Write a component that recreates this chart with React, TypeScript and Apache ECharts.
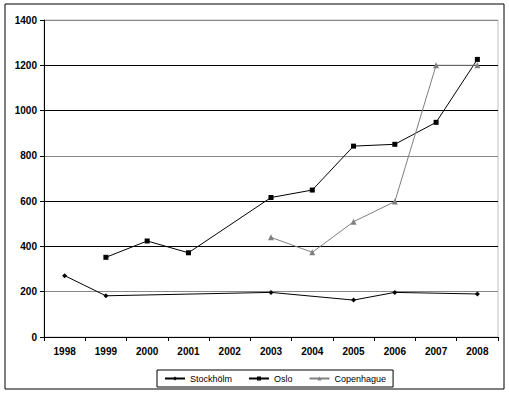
import React, { useEffect, useRef } from "react";
import * as echarts from "echarts";

const years = ["1998", "1999", "2000", "2001", "2002", "2003", "2004", "2005", "2006", "2007", "2008"];
const stockholm = [271, 182, null, null, null, 197, null, 163, 197, null, 190];
const oslo = [null, 352, 424, 372, null, 616, 649, 843, 851, 948, 1226];
const copenhague = [null, null, null, null, null, 440, 374, 509, 598, 1200, 1200];
const seriesNames = ["Stockhölm", "Oslo", "Copenhague"];

export default function App() {
  const ref = useRef<HTMLDivElement>(null);
  useEffect(() => {
    document.body.style.margin = "0";
    const chart = echarts.init(ref.current!, null, { renderer: "svg" });
    const font = "Liberation Sans";
    chart.setOption({
      animation: false,
      backgroundColor: "#fff",
      graphic: [
        {
          type: "rect",
          shape: { x: 5, y: 4, width: 499, height: 385 },
          style: { fill: "none", stroke: "#000", lineWidth: 1 },
          silent: true,
        },
      ],
      grid: {
        left: 44,
        right: 11,
        top: 20,
        bottom: 58,
        containLabel: false,
        show: true,
        borderColor: "#c0c0c0",
        borderWidth: 1,
      },
      legend: {
        bottom: 8,
        left: 157,
        borderColor: "#000",
        borderWidth: 1,
        padding: [4, 7],
        itemGap: 16,
        itemWidth: 20,
        itemHeight: 5,
        textStyle: { fontFamily: font, fontSize: 9, color: "#000" },
        data: seriesNames,
      },
      xAxis: {
        type: "category",
        data: years,
        boundaryGap: true,
        axisLine: { lineStyle: { color: "#000", width: 1 } },
        axisTick: { show: true, length: 4, lineStyle: { color: "#000" } },
        axisLabel: { fontFamily: font, fontSize: 10, fontWeight: "bold", color: "#000", margin: 9 },
        splitLine: { show: false },
      },
      yAxis: {
        type: "value",
        min: 0,
        max: 1400,
        interval: 200,
        axisLine: { show: true, lineStyle: { color: "#000", width: 1 } },
        axisTick: { show: true, length: 4, lineStyle: { color: "#000" } },
        axisLabel: {
          fontFamily: font,
          fontSize: 10,
          fontWeight: "bold",
          color: "#000",
          margin: 7,
          formatter: (v: number) => String(v),
        },
        splitLine: { show: true, lineStyle: { color: ["#000", "#888", "#000"], width: 1 } },
      },
      series: [
        {
          name: seriesNames[0],
          type: "line",
          data: stockholm,
          connectNulls: true,
          symbol: "diamond",
          symbolSize: 5,
          lineStyle: { color: "#000", width: 1 },
          itemStyle: { color: "#000" },
        },
        {
          name: seriesNames[1],
          type: "line",
          data: oslo,
          connectNulls: true,
          symbol: "rect",
          symbolSize: 5,
          lineStyle: { color: "#000", width: 1 },
          itemStyle: { color: "#000" },
        },
        {
          name: seriesNames[2],
          type: "line",
          data: copenhague,
          connectNulls: true,
          symbol: "triangle",
          symbolSize: 6,
          lineStyle: { color: "#808080", width: 1 },
          itemStyle: { color: "#808080" },
        },
      ],
    });
    return () => chart.dispose();
  }, []);
  return <div ref={ref} style={{ width: 509, height: 395 }} />;
}
